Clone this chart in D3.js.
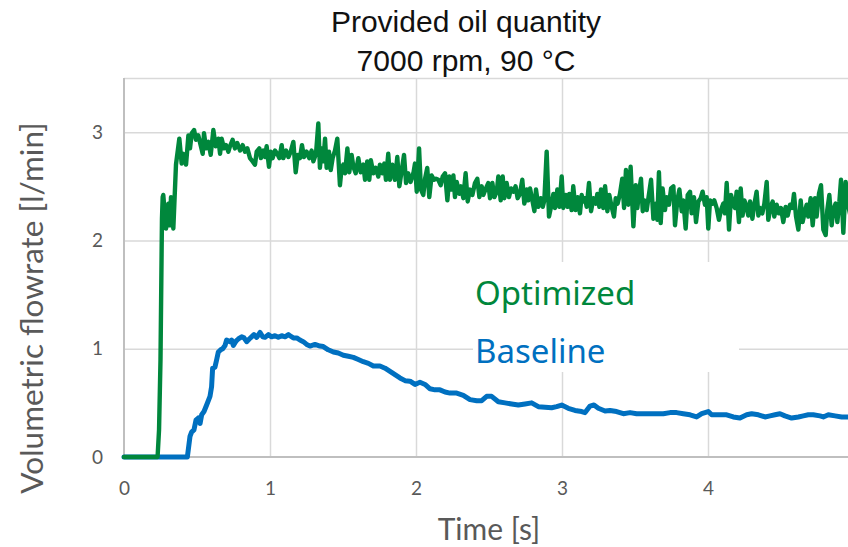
<!DOCTYPE html>
<html>
<head>
<meta charset="utf-8">
<script src="https://cdn.jsdelivr.net/npm/d3@7"></script>
<style>
  body { margin: 0; background: #fff; }
  svg { display: block; }
  .tick text { font-family: Lato, sans-serif; font-size: 19px; fill: #595959; }
  .axis-title { font-family: Lato, sans-serif; font-size: 30px; fill: #595959; }
  .y-title { font-size: 31.5px; }
  .title { font-family: "Liberation Sans", Arial, sans-serif; font-size: 30px; fill: #111; }
  .legend { font-family: "Noto Sans", sans-serif; font-size: 33px; }
</style>
</head>
<body>
<svg id="chart" width="848" height="547"></svg>
<script>
// chart text
const titleLines = ["Provided oil quantity", "7000 rpm, 90 °C"];
const xTitle = "Time [s]";
const yTitle = "Volumetric flowrate [l/min]";
const seriesNames = ["Optimized", "Baseline"];
const seriesColors = ["#00873c", "#0070c0"];

const xTicks = [0, 1, 2, 3, 4];
const yTicks = [0, 1, 2, 3];
const xDomain = [0, 5];
const yDomain = [0, 3.5];

// [time s, flow l/min]
const optimized = [
  [0,0],[0.23,0],[0.24,0.25],[0.25,0.9],[0.26,2.2],[0.265,2.40],[0.269,2.42],[0.288,2.11],[0.304,2.34],[0.315,2.14],
  [0.322,2.40],[0.338,2.11],[0.356,2.70],[0.379,2.94],[0.395,2.71],[0.406,2.80],[0.425,2.70],[0.441,2.97],[0.452,2.85],[0.464,2.99],
  [0.480,3.02],[0.493,2.93],[0.509,2.97],[0.525,2.88],[0.539,2.80],[0.548,2.99],[0.562,2.85],[0.578,2.91],[0.594,2.79],[0.612,3.02],
  [0.628,2.87],[0.646,2.94],[0.658,2.80],[0.669,2.94],[0.685,2.85],[0.699,2.88],[0.715,2.82],[0.726,2.87],[0.744,2.93],[0.760,2.85],
  [0.776,2.90],[0.795,2.83],[0.813,2.88],[0.829,2.82],[0.845,2.85],[0.863,2.76],[0.881,2.73],[0.897,2.70],[0.909,2.82],[0.927,2.85],
  [0.938,2.76],[0.954,2.83],[0.966,2.77],[0.977,2.87],[0.993,2.68],[1.005,2.82],[1.018,2.76],[1.034,2.83],[1.050,2.80],[1.064,2.76],
  [1.080,2.88],[1.091,2.76],[1.110,2.83],[1.126,2.77],[1.142,2.82],[1.160,2.91],[1.176,2.63],[1.190,2.79],[1.205,2.76],[1.219,2.88],
  [1.233,2.77],[1.251,2.82],[1.269,2.76],[1.285,2.83],[1.297,2.73],[1.315,2.80],[1.331,3.08],[1.342,2.67],[1.354,2.85],[1.365,2.73],
  [1.377,2.94],[1.388,2.67],[1.404,2.82],[1.416,2.65],[1.429,2.76],[1.445,2.83],[1.461,2.94],[1.479,2.51],[1.491,2.67],[1.502,2.70],
  [1.514,2.62],[1.530,2.85],[1.543,2.63],[1.559,2.79],[1.571,2.68],[1.587,2.62],[1.605,2.76],[1.621,2.63],[1.639,2.70],[1.651,2.56],
  [1.666,2.73],[1.680,2.56],[1.691,2.74],[1.708,2.62],[1.724,2.67],[1.742,2.59],[1.753,2.70],[1.769,2.62],[1.783,2.71],[1.794,2.56],
  [1.810,2.80],[1.822,2.56],[1.838,2.70],[1.856,2.56],[1.872,2.77],[1.886,2.50],[1.918,2.79],[1.932,2.53],[1.947,2.62],[1.963,2.54],
  [1.982,2.62],[1.993,2.71],[2.005,2.45],[2.021,2.85],[2.034,2.47],[2.050,2.42],[2.062,2.57],[2.077,2.67],[2.091,2.40],[2.107,2.60],
  [2.123,2.56],[2.137,2.57],[2.153,2.56],[2.169,2.51],[2.183,2.59],[2.199,2.62],[2.215,2.37],[2.228,2.59],[2.244,2.47],[2.256,2.60],
  [2.267,2.40],[2.279,2.54],[2.297,2.43],[2.308,2.50],[2.324,2.39],[2.340,2.62],[2.354,2.36],[2.370,2.47],[2.386,2.42],[2.404,2.53],
  [2.420,2.57],[2.434,2.40],[2.450,2.50],[2.461,2.42],[2.479,2.48],[2.495,2.53],[2.507,2.39],[2.523,2.53],[2.537,2.40],[2.553,2.45],
  [2.564,2.59],[2.580,2.37],[2.594,2.59],[2.605,2.39],[2.621,2.53],[2.637,2.40],[2.651,2.48],[2.667,2.45],[2.682,2.50],[2.696,2.39],
  [2.712,2.43],[2.728,2.56],[2.742,2.34],[2.758,2.47],[2.769,2.37],[2.781,2.48],[2.797,2.37],[2.811,2.27],[2.822,2.47],[2.838,2.31],
  [2.854,2.39],[2.868,2.31],[2.879,2.37],[2.895,2.82],[2.911,2.22],[2.925,2.31],[2.941,2.43],[2.952,2.30],[2.968,2.47],[2.982,2.31],
  [2.998,2.59],[3.009,2.30],[3.025,2.42],[3.039,2.31],[3.050,2.43],[3.066,2.28],[3.077,2.50],[3.093,2.28],[3.107,2.40],[3.123,2.25],
  [3.135,2.42],[3.146,2.36],[3.158,2.39],[3.169,2.31],[3.185,2.53],[3.199,2.27],[3.215,2.39],[3.231,2.34],[3.242,2.43],[3.256,2.31],
  [3.267,2.47],[3.283,2.30],[3.295,2.50],[3.311,2.27],[3.324,2.42],[3.340,2.31],[3.356,2.22],[3.368,2.39],[3.381,2.34],[3.397,2.43],
  [3.413,2.57],[3.425,2.30],[3.438,2.65],[3.454,2.33],[3.470,2.68],[3.489,2.13],[3.505,2.51],[3.516,2.30],[3.530,2.47],[3.541,2.57],
  [3.553,2.27],[3.564,2.37],[3.580,2.28],[3.596,2.43],[3.610,2.56],[3.626,2.20],[3.642,2.34],[3.653,2.19],[3.664,2.63],[3.676,2.16],
  [3.689,2.48],[3.705,2.28],[3.717,2.40],[3.733,2.33],[3.747,2.48],[3.763,2.50],[3.774,2.14],[3.790,2.37],[3.804,2.47],[3.820,2.27],
  [3.831,2.37],[3.847,2.11],[3.861,2.42],[3.877,2.45],[3.888,2.25],[3.904,2.40],[3.918,2.17],[3.934,2.36],[3.950,2.39],[3.963,2.45],
  [3.979,2.33],[3.991,2.40],[4.002,2.11],[4.014,2.37],[4.030,2.34],[4.043,2.37],[4.059,2.30],[4.075,2.19],[4.089,2.28],[4.105,2.34],
  [4.116,2.25],[4.128,2.53],[4.144,2.10],[4.158,2.42],[4.174,2.33],[4.185,2.30],[4.196,2.45],[4.212,2.17],[4.224,2.48],[4.237,2.23],
  [4.249,2.37],[4.260,2.33],[4.276,2.23],[4.288,2.36],[4.304,2.20],[4.317,2.33],[4.333,2.45],[4.345,2.23],[4.356,2.30],[4.372,2.25],
  [4.386,2.34],[4.402,2.54],[4.413,2.19],[4.429,2.31],[4.443,2.36],[4.454,2.22],[4.470,2.33],[4.486,2.25],[4.500,2.30],[4.516,2.17],
  [4.532,2.31],[4.546,2.23],[4.562,2.33],[4.577,2.30],[4.589,2.43],[4.603,2.22],[4.619,2.10],[4.635,2.37],[4.648,2.17],[4.664,2.27],
  [4.676,2.33],[4.687,2.22],[4.703,2.39],[4.717,2.14],[4.733,2.39],[4.744,2.22],[4.760,2.43],[4.774,2.51],[4.790,2.10],[4.806,2.05],
  [4.817,2.28],[4.831,2.42],[4.847,2.14],[4.858,2.28],[4.874,2.34],[4.886,2.17],[4.900,2.36],[4.911,2.56],[4.927,2.07],[4.943,2.54],
  [4.959,2.33],[4.98,2.20],[5.0,2.30]
];

const baselineFlow = [
  [0,0],[0.434,0],[0.452,0.19],[0.463,0.23],[0.479,0.25],[0.493,0.34],[0.509,0.36],[0.521,0.31],[0.532,0.39],[0.548,0.42],
  [0.566,0.48],[0.589,0.56],[0.600,0.65],[0.607,0.82],[0.623,0.83],[0.635,0.90],[0.646,0.97],[0.662,0.99],[0.676,1.00],[0.692,1.03],
  [0.703,1.08],[0.726,1.065],[0.737,1.08],[0.749,1.03],[0.767,1.07],[0.783,1.09],[0.806,1.11],[0.822,1.10],[0.840,1.065],[0.858,1.09],
  [0.874,1.11],[0.890,1.13],[0.909,1.105],[0.932,1.15],[0.950,1.11],[0.966,1.105],[0.989,1.13],[1.011,1.11],[1.034,1.12],[1.057,1.105],
  [1.080,1.12],[1.103,1.11],[1.126,1.13],[1.137,1.12],[1.160,1.10],[1.183,1.10],[1.205,1.08],[1.228,1.065],[1.251,1.04],[1.274,1.025],
  [1.308,1.04],[1.342,1.025],[1.365,1.02],[1.399,0.99],[1.434,0.97],[1.468,0.96],[1.502,0.94],[1.537,0.93],[1.571,0.92],[1.605,0.90],
  [1.639,0.88],[1.674,0.865],[1.708,0.84],[1.753,0.84],[1.788,0.82],[1.822,0.79],[1.856,0.76],[1.890,0.73],[1.925,0.705],[1.959,0.70],
  [1.993,0.67],[2.027,0.69],[2.062,0.67],[2.096,0.63],[2.130,0.62],[2.164,0.62],[2.199,0.60],[2.233,0.59],[2.279,0.59],[2.324,0.57],
  [2.370,0.53],[2.416,0.52],[2.450,0.52],[2.484,0.56],[2.518,0.56],[2.564,0.51],[2.610,0.50],[2.655,0.49],[2.701,0.48],[2.747,0.49],
  [2.792,0.50],[2.838,0.465],[2.884,0.46],[2.929,0.455],[2.963,0.465],[2.998,0.48],[3.043,0.45],[3.089,0.43],[3.135,0.42],[3.158,0.41],
  [3.192,0.47],[3.219,0.48],[3.249,0.45],[3.295,0.425],[3.329,0.43],[3.374,0.42],[3.420,0.40],[3.466,0.41],[3.511,0.40],[3.557,0.40],
  [3.603,0.40],[3.648,0.40],[3.694,0.40],[3.740,0.41],[3.785,0.41],[3.831,0.40],[3.877,0.39],[3.922,0.37],[3.957,0.40],[4.002,0.42],
  [4.025,0.39],[4.059,0.39],[4.094,0.39],[4.128,0.39],[4.173,0.37],[4.219,0.36],[4.265,0.39],[4.299,0.40],[4.345,0.39],[4.390,0.37],
  [4.425,0.38],[4.459,0.39],[4.493,0.40],[4.527,0.38],[4.573,0.36],[4.619,0.37],[4.653,0.38],[4.687,0.39],[4.721,0.39],[4.767,0.38],
  [4.790,0.37],[4.824,0.39],[4.870,0.38],[4.916,0.37],[4.959,0.37],[5.0,0.37]
];

const margin = { left: 124, right: -6, top: 78, bottom: 90 };
const width = 848, height = 547;
const drawWidth = width - margin.left - margin.right;
const drawHeight = height - margin.top - margin.bottom;

const svg = d3.select("#chart");
const g = svg.append("g").attr("transform", `translate(${margin.left},${margin.top})`);

const xScale = d3.scaleLinear().domain(xDomain).range([0, drawWidth]);
const yScale = d3.scaleLinear().domain(yDomain).range([drawHeight, 0]);

// gridlines
g.append("g")
  .call(d3.axisLeft(yScale).tickValues([1, 2, 3, 3.5]).tickSize(-drawWidth).tickFormat(""))
  .call(a => a.select(".domain").remove())
  .selectAll("line").attr("stroke", "#d9d9d9").attr("stroke-width", 1.5);

g.append("g")
  .attr("transform", `translate(0,${drawHeight})`)
  .call(d3.axisBottom(xScale).tickValues([1, 2, 3, 4, 5]).tickSize(-drawHeight).tickFormat(""))
  .call(a => a.select(".domain").remove())
  .selectAll("line").attr("stroke", "#d9d9d9").attr("stroke-width", 1.5);

// axis lines
g.append("line").attr("x1", 0).attr("x2", 0).attr("y1", 0).attr("y2", drawHeight)
  .attr("stroke", "#bfbfbf").attr("stroke-width", 2);
g.append("line").attr("x1", 0).attr("x2", drawWidth).attr("y1", drawHeight).attr("y2", drawHeight)
  .attr("stroke", "#bfbfbf").attr("stroke-width", 2);

// tick labels
g.append("g")
  .call(d3.axisLeft(yScale).tickValues(yTicks).tickSize(0).tickPadding(21).tickFormat(d3.format("d")))
  .call(a => a.select(".domain").remove());

g.append("g")
  .attr("transform", `translate(0,${drawHeight})`)
  .call(d3.axisBottom(xScale).tickValues(xTicks).tickSize(0).tickPadding(25).tickFormat(d3.format("d")))
  .call(a => a.select(".domain").remove());

// legend box (white, hides the grid behind the labels)
g.append("rect")
  .attr("x", 473 - margin.left).attr("y", 262 - margin.top)
  .attr("width", 266).attr("height", 110)
  .attr("fill", "#fff");

// lines
const line = d3.line().x(d => xScale(d[0])).y(d => yScale(d[1]));

g.append("path").datum(baselineFlow)
  .attr("d", line).attr("fill", "none")
  .attr("stroke", seriesColors[1]).attr("stroke-width", 5)
  .attr("stroke-linejoin", "round").attr("stroke-linecap", "round");

g.append("path").datum(optimized)
  .attr("d", line).attr("fill", "none")
  .attr("stroke", seriesColors[0]).attr("stroke-width", 4.4)
  .attr("stroke-linejoin", "round").attr("stroke-linecap", "round");

// series labels
seriesNames.forEach((name, i) => {
  svg.append("text").attr("class", "legend")
    .attr("x", 475).attr("y", 305 + i * 58)
    .attr("fill", seriesColors[i])
    .text(name);
});

// titles
svg.append("text").attr("class", "title")
  .attr("text-anchor", "middle")
  .selectAll("tspan").data(titleLines).join("tspan")
  .attr("x", 466).attr("y", (d, i) => 32 + i * 38.5)
  .text(d => d);

svg.append("text").attr("class", "axis-title")
  .attr("text-anchor", "middle")
  .attr("x", margin.left + drawWidth / 2).attr("y", 540)
  .text(xTitle);

svg.append("text").attr("class", "axis-title y-title")
  .attr("text-anchor", "middle")
  .attr("transform", `translate(43,308) rotate(-90)`)
  .text(yTitle);
</script>
</body>
</html>
